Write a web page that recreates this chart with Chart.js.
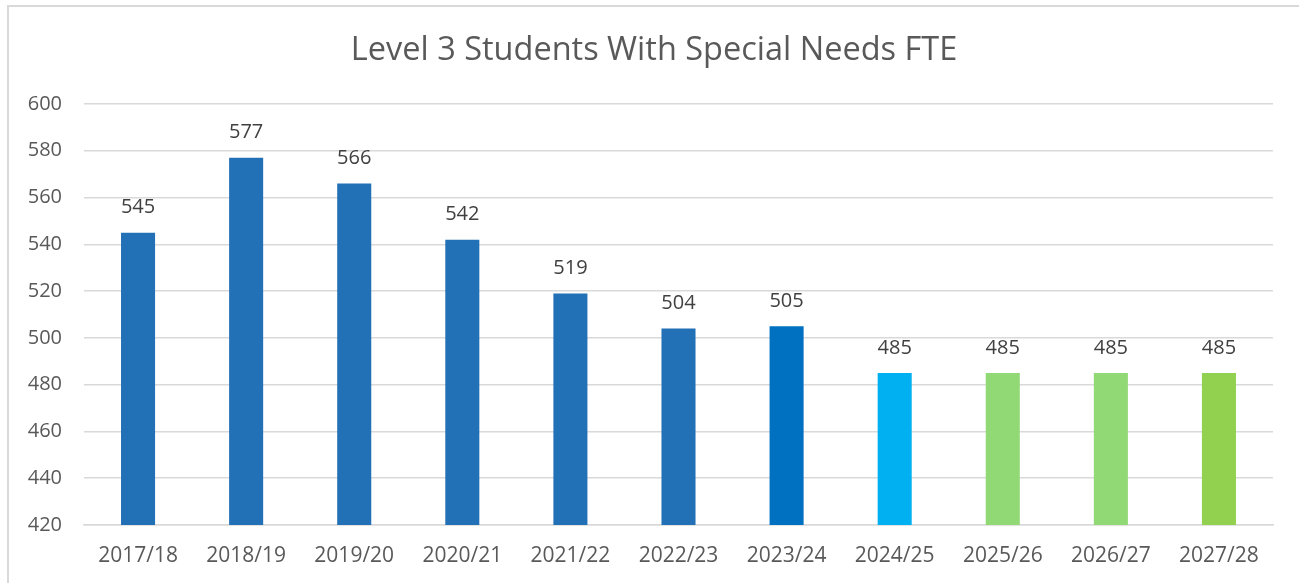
<!DOCTYPE html>
<html>
<head>
<meta charset="utf-8">
<script src="https://cdn.jsdelivr.net/npm/chart.js@4/dist/chart.umd.min.js"></script>
<style>
  html, body { margin: 0; padding: 0; background: #ffffff; overflow: hidden; }
  #wrap { position: absolute; left: 0; top: 0; width: 1299px; height: 583px; }
  #frame { position: absolute; left: 7px; top: 5px; width: 1400px; height: 700px;
           border-left: 2px solid #d9d9d9; border-top: 2px solid #d9d9d9; pointer-events: none; }
</style>
</head>
<body>
<div id="wrap">
  <canvas id="c" width="1299" height="583"></canvas>
  <div id="frame"></div>
</div>
<script>
const categories = ["2017/18","2018/19","2019/20","2020/21","2021/22","2022/23","2023/24","2024/25","2025/26","2026/27","2027/28"];
const values = [545, 577, 566, 542, 519, 504, 505, 485, 485, 485, 485];
const barColors = ["#2270b6","#2270b6","#2270b6","#2270b6","#2270b6","#2270b6","#0070c0","#00b0f0","#90d974","#90d974","#92d050"];
const titleText = "Level 3 Students With Special Needs FTE";
const yMin = 420, yMax = 600, yStep = 20;

const FONT = "'Open Sans', 'Noto Sans', sans-serif";

const valueLabels = {
  id: 'valueLabels',
  afterDatasetsDraw(chart) {
    const ctx = chart.ctx;
    const meta = chart.getDatasetMeta(0);
    ctx.save();
    ctx.font = "20px " + FONT;
    ctx.fillStyle = "#404040";
    ctx.textAlign = "center";
    ctx.textBaseline = "middle";
    meta.data.forEach((bar, i) => {
      ctx.fillText(String(values[i]), bar.x, bar.y - 25);
    });
    ctx.restore();
  }
};

const chartTitle = {
  id: 'chartTitle',
  afterDraw(chart) {
    const ctx = chart.ctx;
    ctx.save();
    ctx.font = "32.5px " + FONT;
    ctx.fillStyle = "#595959";
    ctx.textAlign = "center";
    ctx.textBaseline = "alphabetic";
    ctx.fillText(titleText, 654, 60);
    ctx.restore();
  }
};

new Chart(document.getElementById('c'), {
  type: 'bar',
  data: {
    labels: categories,
    datasets: [{
      data: values,
      backgroundColor: barColors,
      borderWidth: 0,
      categoryPercentage: 1.0,
      barPercentage: 0.315
    }]
  },
  options: {
    responsive: false,
    animation: false,
    devicePixelRatio: 1,
    layout: { padding: { left: 0, right: 26, top: 104, bottom: 15 } },
    plugins: {
      legend: { display: false },
      tooltip: { enabled: false },
      title: { display: false }
    },
    scales: {
      x: {
        afterFit(s) { s.height = 43; },
        grid: { display: false, drawTicks: false },
        border: { display: true, color: "#d9d9d9", width: 1.5 },
        ticks: { color: "#595959", font: { family: FONT, size: 21 }, padding: 18, maxRotation: 0, autoSkip: false }
      },
      y: {
        min: yMin, max: yMax,
        afterFit(s) { s.width = 84; },
        grid: { color: "#d9d9d9", lineWidth: 1.5, drawTicks: false },
        border: { display: false },
        ticks: { stepSize: yStep, color: "#595959", font: { family: FONT, size: 20 }, padding: 22 }
      }
    }
  },
  plugins: [valueLabels, chartTitle]
});
</script>
</body>
</html>
